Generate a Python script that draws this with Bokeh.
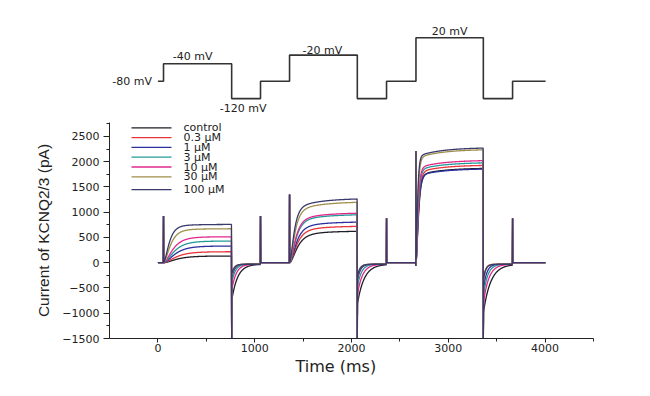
import numpy as np
from bokeh.plotting import figure
from bokeh.layouts import column
from bokeh.models import Range1d, FixedTicker, ColumnDataSource, Title
from bokeh.embed import file_html
from bokeh.resources import INLINE

# ---------------- data ----------------
# voltage protocol: step onset times (ms) and command voltages (mV)
step_times = [0, 58, 762, 1060, 1360, 2060, 2362, 2666, 3362, 3664, 4005]
step_mv = [-80, -40, -120, -80, -20, -120, -80, 20, -120, -80]
protocol_labels = ["-80 mV", "-40 mV", "-120 mV", "-20 mV", "20 mV"]
protocol_label_segments = [0, 1, 2, 4, 7]

concentrations = ["control", "0.3 \u00b5M", "1 \u00b5M", "3 \u00b5M", "10 \u00b5M", "30 \u00b5M", "100 \u00b5M"]

# steady-state current (pA) at the end of each depolarising step
i_ss_m40 = [133, 218, 331, 430, 515, 674, 760]
i_ss_m20 = [628, 727, 812, 958, 990, 1208, 1275]
i_ss_p20 = [1875, 1935, 1862, 1985, 2030, 2245, 2280]
# activation time constants (ms)
tau_act_m40 = [105, 100, 92, 85, 75, 55, 45]
tau_act_m20 = [60, 55, 52, 48, 46, 40, 35]
tau_act_p20 = [20, 19, 18, 17, 16, 14, 12]
# fraction of slow activation component per step (-40, -20, +20 mV)
slow_fraction = [0.05, 0.18, 0.08]
tau_slow = 250
# tail current (pA) at -120 mV after each step and its decay (ms)
tail_m40 = [-760, -330, -300, -420, -560, -260, -230]
tail_m20 = [-830, -380, -350, -500, -650, -300, -280]
tail_p20 = [-1000, -420, -560, -690, -820, -350, -330]
tau_tail_m40 = [60, 26, 28, 36, 45, 24, 25]
tau_tail_m20 = [70, 28, 30, 40, 52, 25, 26]
tau_tail_p20 = [75, 20, 32, 42, 55, 22, 25]
hold_m120 = -30
# capacitive transients (pA) at each step onset (steps 1..9)
transient_pa = [925, -1600, 925, 1350, -1600, 880, 2210, -1600, 880]
pre_step_dip = -65

x_ticks = [0, 1000, 2000, 3000, 4000]
y_ticks = [-1500, -1000, -500, 0, 500, 1000, 1500, 2000, 2500]

colors = ["#1e1e26", "#e8343a", "#2c309c", "#23999a", "#e2288c", "#a08f4a", "#3a3a6c"]

# ---------------- build traces ----------------
t = np.arange(step_times[0], step_times[-1], 2.0)
act = {-40: (i_ss_m40, tau_act_m40, slow_fraction[0]),
       -20: (i_ss_m20, tau_act_m20, slow_fraction[1]),
       20: (i_ss_p20, tau_act_p20, slow_fraction[2])}
tails = [(tail_m40, tau_tail_m40), (tail_m20, tau_tail_m20), (tail_p20, tau_tail_p20)]

traces = []
for k in range(len(concentrations)):
    y = np.zeros_like(t)
    tail_n = 0
    for j, v in enumerate(step_mv):
        t0, t1 = step_times[j], step_times[j + 1]
        m = (t >= t0) & (t < t1)
        dt = t[m] - t0
        if v in act:
            iss, taus, s = act[v]
            y[m] = iss[k] * (1 - np.exp(-dt / taus[k])) ** 2 * (1 - s * np.exp(-dt / tau_slow))
        elif v == -120:
            amp, tt = tails[tail_n]
            tail_n += 1
            y[m] = hold_m120 + (amp[k] - hold_m120) * np.exp(-dt / tt[k])
        else:
            y[m] = 0.0
    for j in range(1, len(step_times) - 1):
        idx = int(np.searchsorted(t, step_times[j]))
        y[idx] = transient_pa[j - 1]
        if step_mv[j] == 20:
            y[idx - 1] = pre_step_dip
    traces.append(y)

# ---------------- layout geometry (pixels) ----------------
W = 634
TOP_H = 116
MAIN_H = 264
B_LEFT, B_RIGHT, B_TOP, B_BOTTOM = 109, 41, 6, 42
x0, x1 = -500, 4500
frame_w = W - B_LEFT - B_RIGHT
frame_h = MAIN_H - B_TOP - B_BOTTOM

# ---------------- protocol figure ----------------
top = figure(width=W, height=TOP_H, output_backend="svg", toolbar_location=None,
             x_range=Range1d(x0, x1), y_range=Range1d(-161.1, 105.5),
             x_axis_location=None, y_axis_location=None,
             min_border_left=B_LEFT, min_border_right=B_RIGHT, min_border_top=0, min_border_bottom=0)
top.outline_line_color = None
top.xgrid.visible = False
top.ygrid.visible = False
top.step(x=step_times, y=step_mv + [step_mv[-1]], mode="after",
         line_color="#333333", line_width=1.6)

lx, ly, align, xo, yo = [], [], [], [], []
label_style = {0: ("right", -6, 0), 1: ("center", -5, -7), 2: ("center", -3, 10),
               4: ("center", -1, -5), 7: ("center", 0, -6)}
for seg in protocol_label_segments:
    a, dx, dy = label_style[seg]
    lx.append(step_times[0] if seg == 0 else (step_times[seg] + step_times[seg + 1]) / 2)
    ly.append(step_mv[seg])
    align.append(a)
    xo.append(dx)
    yo.append(dy)
src = ColumnDataSource(dict(x=lx, y=ly, text=protocol_labels, align=align, xo=xo, yo=yo))
top.text(x="x", y="y", text="text", source=src, text_align="align",
         x_offset="xo", y_offset="yo", text_baseline="alphabetic", text_font_size="11px",
         text_font={"value": "DejaVu Sans"}, text_color="#222222")

# ---------------- current figure ----------------
p = figure(width=W, height=MAIN_H, output_backend="svg", toolbar_location=None,
           x_range=Range1d(x0, x1), y_range=Range1d(-1500, 2775),
           min_border_left=B_LEFT, min_border_right=B_RIGHT,
           min_border_top=B_TOP, min_border_bottom=B_BOTTOM)
p.outline_line_color = None
p.xgrid.visible = False
p.ygrid.visible = False

for k in range(len(concentrations)):
    p.line(t, traces[k], line_color=colors[k], line_width=1.3)

# legend drawn in frame pixel coordinates
p.extra_x_ranges = {"px": Range1d(0, frame_w)}
p.extra_y_ranges = {"py": Range1d(frame_h, 0)}
leg_y = [5.3 + 9.8 * i for i in range(len(concentrations))]
leg_y[-1] += 3
p.segment(x0=[22] * len(leg_y), x1=[62] * len(leg_y), y0=leg_y, y1=leg_y,
          line_color=colors, line_width=1.3, x_range_name="px", y_range_name="py")
p.text(x=[74] * len(leg_y), y=leg_y, text=concentrations, x_range_name="px", y_range_name="py",
       text_baseline="middle", text_align="left", text_font_size="11px",
       text_font={"value": "DejaVu Sans"}, text_color="#222222")

p.xaxis.ticker = FixedTicker(ticks=x_ticks, minor_ticks=[v + 500 for v in [x0] + x_ticks])
p.yaxis.ticker = FixedTicker(ticks=y_ticks, minor_ticks=[v + 250 for v in y_ticks])
for ax in (p.xaxis, p.yaxis):
    ax.axis_line_color = "#222222"
    ax.major_tick_line_color = "#222222"
    ax.minor_tick_line_color = "#222222"
    ax.major_tick_in = 0
    ax.minor_tick_in = 0
    ax.major_label_text_font = "DejaVu Sans"
    ax.major_label_text_font_size = "11px"
    ax.major_label_text_color = "#222222"
p.yaxis.major_tick_out = 6
p.yaxis.minor_tick_out = 3
p.xaxis.major_tick_out = 4
p.xaxis.minor_tick_out = 3
p.yaxis.major_label_standoff = 4
p.xaxis.major_label_standoff = 1

p.yaxis.axis_label = "Current of KCNQ2/3 (pA)"
p.yaxis.axis_label_text_font = "Liberation Sans"
p.yaxis.axis_label_text_font_size = "15.5px"
p.yaxis.axis_label_text_font_style = "normal"
p.yaxis.axis_label_text_color = "#222222"
p.yaxis.axis_label_standoff = 7

p.add_layout(Title(text="Time (ms)", align="left", offset=186, standoff=0,
                   text_font="DejaVu Sans", text_font_size="16px", text_font_style="normal",
                   text_color="#222222"), "below")

open("out.html", "w").write(file_html(column(top, p, spacing=0), INLINE))
